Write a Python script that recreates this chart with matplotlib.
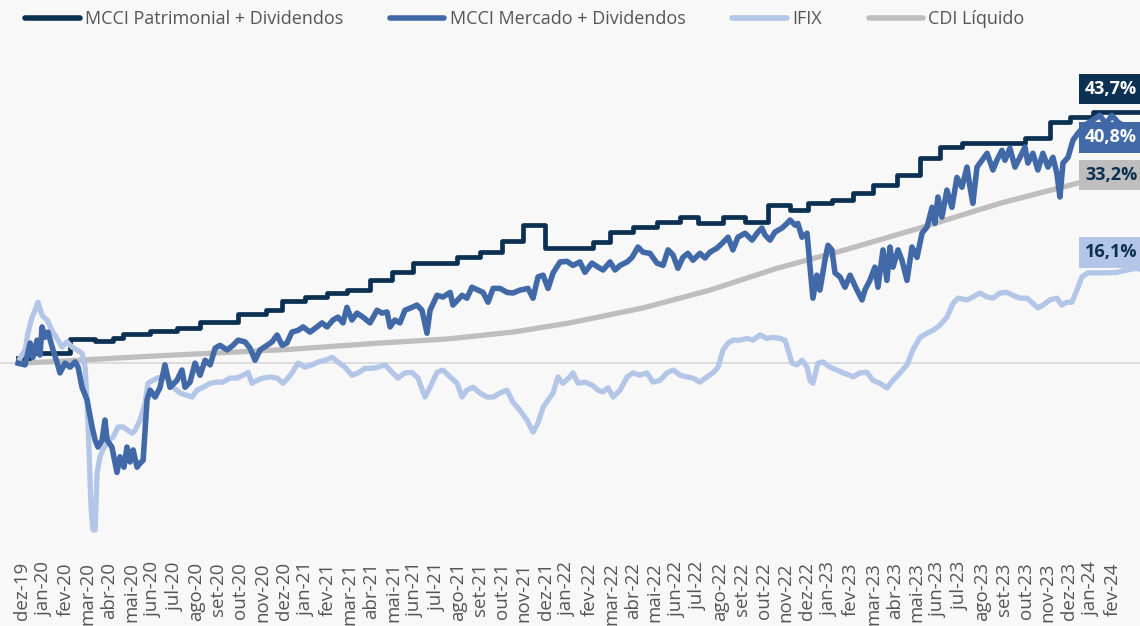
import matplotlib

matplotlib.use("Agg")

import matplotlib.pyplot as plt
from matplotlib.lines import Line2D

plt.rcParams["font.family"] = ["Open Sans", "DejaVu Sans"]

# x in months, 0 = dez-19 tick; values in %
month_labels = [
    "dez-19", "jan-20", "fev-20", "mar-20", "abr-20", "mai-20", "jun-20", "jul-20",
    "ago-20", "set-20", "out-20", "nov-20", "dez-20", "jan-21", "fev-21", "mar-21",
    "abr-21", "mai-21", "jun-21", "jul-21", "ago-21", "set-21", "out-21", "nov-21",
    "dez-21", "jan-22", "fev-22", "mar-22", "abr-22", "mai-22", "jun-22", "jul-22",
    "ago-22", "set-22", "out-22", "nov-22", "dez-22", "jan-23", "fev-23", "mar-23",
    "abr-23", "mai-23", "jun-23", "jul-23", "ago-23", "set-23", "out-23", "nov-23",
    "dez-23", "jan-24", "fev-24",
]

patrimonial_x = [
    -0.18, 0.37, 2.20, 3.35, 4.17, 4.63, 5.87, 7.10, 8.16, 9.90, 11.18, 11.92,
    12.97, 13.98, 14.90, 15.95, 16.96, 17.92, 19.94, 20.99, 22.00, 22.96, 23.97,
    26.17, 26.95, 28.00, 29.10, 30.16, 30.98, 32.13, 33.14, 34.19, 35.20, 36.02,
    37.12, 38.08, 39.00, 40.10, 41.16, 42.07, 43.08, 45.97, 47.11, 48.03, 49.08, 51.4,
]
patrimonial_y = [
    0.9, 1.7, 4.2, 3.8, 4.3, 5.0, 5.6, 6.1, 7.1, 8.5, 9.2, 10.8,
    11.5, 12.2, 12.7, 14.4, 15.8, 17.4, 18.4, 19.3, 21.2, 24.0, 20.0,
    21.0, 22.8, 23.7, 24.5, 25.4, 24.3, 25.4, 24.5, 27.5, 26.6, 27.8,
    28.3, 29.6, 31.0, 32.7, 35.7, 37.6, 38.3, 39.1, 41.9, 42.8, 43.7, 43.7,
]

mercado_x = [
    -0.18, 0.14, 0.37, 0.50, 0.69, 0.82, 0.92, 1.05, 1.19, 1.42, 1.60, 1.74, 1.97,
    2.20, 2.43, 2.57, 2.75, 2.98, 3.21, 3.35, 3.48, 3.67, 3.80, 3.90, 4.12, 4.35,
    4.49, 4.67, 4.81, 4.95, 5.09, 5.27, 5.41, 5.55, 5.73, 5.87, 6.10, 6.32, 6.55,
    6.78, 7.10, 7.33, 7.47, 7.70, 7.93, 8.16, 8.39, 8.62, 8.85, 9.07, 9.40, 9.67,
    9.90, 10.22, 10.45, 10.68, 10.91, 11.23, 11.46, 11.69, 11.92, 12.14, 12.37,
    12.65, 12.88, 13.20, 13.52, 13.75, 13.98, 14.25, 14.48, 14.71, 14.89, 15.12,
    15.35, 15.63, 15.95, 16.27, 16.50, 16.73, 16.87, 17.09, 17.32, 17.55, 17.87,
    18.10, 18.33, 18.56, 18.70, 19.02, 19.29, 19.62, 19.75, 20.17, 20.39, 20.62,
    20.90, 21.13, 21.36, 21.59, 21.91, 22.23, 22.50, 22.82, 23.19, 23.42, 23.65,
    23.88, 24.11, 24.34, 24.66, 24.98, 25.25, 25.57, 25.80, 26.12, 26.40, 26.63,
    26.95, 27.18, 27.41, 27.73, 27.96, 28.23, 28.46, 28.78, 29.10, 29.38, 29.61,
    29.84, 30.06, 30.29, 30.52, 30.75, 31.07, 31.30, 31.53, 31.85, 32.13, 32.36,
    32.58, 32.81, 33.14, 33.46, 33.73, 33.91, 34.05, 34.28, 34.51, 34.83, 35.06,
    35.20, 35.43, 35.56, 35.75, 35.98, 36.11, 36.25, 36.43, 36.57, 36.80, 36.94,
    37.12, 37.26, 37.49, 37.72, 37.95, 38.27, 38.50, 38.63, 38.86, 39.09, 39.23,
    39.46, 39.64, 39.78, 39.92, 40.15, 40.33, 40.56, 40.79, 41.02, 41.25, 41.48,
    41.71, 41.84, 41.98, 42.16, 42.39, 42.62, 42.85, 43.08, 43.31, 43.45, 43.58,
    43.77, 44.00, 44.23, 44.50, 44.68, 44.91, 45.05, 45.28, 45.51, 45.74, 45.97,
    46.10, 46.33, 46.56, 46.79, 47.02, 47.25, 47.43, 47.57, 47.71, 47.94, 48.17,
    48.40, 48.72, 49.08, 49.40, 49.68, 49.95, 50.23, 50.55, 51.01, 51.4,
]
mercado_y = [
    0.0, -0.3, 3.5, 1.0, 4.0, 1.4, 6.3, 4.5, 5.4, 2.3, 0.2, -1.7, 0.0,
    -0.7, 0.2, -0.7, -4.2, -6.4, -11.1, -13.4, -14.6, -13.4, -9.9, -13.4, -14.6, -19.0,
    -16.3, -18.1, -14.6, -17.2, -15.1, -18.1, -17.4, -16.9, -6.4, -4.7, -5.9, -4.3, -0.3,
    -4.2, -3.0, -1.2, -4.2, -3.3, 0.0, -2.1, 0.5, -0.3, 2.6, 3.1, 2.3, 3.1,
    4.0, 3.7, 2.6, 0.5, 2.3, 3.1, 3.7, 4.9, 3.1, 3.5, 5.4,
    5.7, 6.3, 5.4, 6.3, 7.0, 6.3, 7.5, 8.0, 7.0, 9.7, 7.5,
    8.7, 8.0, 7.0, 9.2, 8.7, 8.9, 6.3, 7.5, 7.0, 9.2, 9.7,
    10.1, 9.2, 5.2, 9.2, 11.8, 11.5, 12.3, 10.1, 11.8, 11.3, 13.2,
    12.7, 12.3, 10.6, 13.0, 13.0, 12.3, 12.2, 12.7, 13.0, 11.3, 15.0,
    15.3, 13.0, 15.7, 17.6, 17.7, 17.0, 17.6, 15.8, 17.4, 16.7, 16.2,
    17.6, 16.2, 17.0, 17.6, 18.4, 20.2, 19.3, 19.1, 17.4, 17.0, 19.7,
    18.8, 16.5, 18.4, 19.1, 17.9, 19.1, 18.3, 19.3, 20.0, 21.0, 21.9,
    19.7, 21.9, 22.6, 21.4, 22.8, 23.5, 22.3, 21.4, 22.8, 23.5, 24.3,
    24.9, 24.0, 24.3, 21.9, 22.6, 17.0, 11.3, 15.3, 12.7, 17.9, 20.5,
    19.7, 15.7, 15.0, 13.2, 15.3, 12.7, 11.0, 12.7, 14.4, 16.7, 13.2,
    19.7, 14.4, 20.2, 16.7, 19.7, 17.9, 14.4, 20.2, 18.4, 22.6, 23.7,
    27.1, 24.3, 28.9, 25.4, 30.1, 27.1, 32.3, 30.6, 34.1, 30.6, 27.8,
    34.1, 35.3, 36.5, 33.6, 35.3, 37.0, 35.3, 37.4, 34.1, 35.8, 37.6,
    34.8, 36.5, 33.6, 36.5, 34.1, 35.8, 33.0, 28.9, 34.8, 35.8, 38.8,
    40.0, 41.4, 42.3, 43.1, 41.6, 43.1, 41.9, 41.2, 40.8, 40.8,
]

ifix_x = [
    -0.18, -0.09, 0.14, 0.27, 0.46, 0.60, 0.73, 0.92, 1.15, 1.37, 1.60, 1.83, 2.06,
    2.29, 2.52, 2.75, 2.89, 2.98, 3.07, 3.16, 3.25, 3.35, 3.44, 3.57, 3.71, 3.94,
    4.17, 4.40, 4.63, 4.86, 5.04, 5.18, 5.41, 5.64, 5.77, 6.00, 6.19, 6.46, 6.69,
    6.92, 7.24, 7.56, 7.79, 8.02, 8.30, 8.62, 8.94, 9.21, 9.53, 9.85, 10.13, 10.36,
    10.54, 10.77, 11.04, 11.37, 11.69, 11.96, 12.19, 12.37, 12.65, 12.97, 13.29,
    13.57, 13.89, 14.21, 14.48, 14.80, 15.12, 15.40, 15.72, 16.04, 16.32, 16.64,
    16.96, 17.23, 17.55, 17.87, 18.15, 18.47, 18.70, 19.02, 19.29, 19.62, 19.94,
    20.17, 20.39, 20.67, 20.99, 21.31, 21.59, 21.91, 22.23, 22.50, 22.82, 23.14,
    23.42, 23.65, 23.88, 24.11, 24.34, 24.56, 24.79, 25.11, 25.25, 25.48, 25.80,
    26.12, 26.40, 26.63, 26.86, 27.09, 27.41, 27.73, 28.00, 28.32, 28.64, 28.92,
    29.24, 29.56, 29.84, 30.16, 30.48, 30.75, 31.07, 31.39, 31.67, 31.90, 32.13,
    32.36, 32.58, 32.91, 33.23, 33.50, 33.82, 34.14, 34.42, 34.74, 34.97, 35.11,
    35.29, 35.52, 35.75, 35.98, 36.11, 36.25, 36.48, 36.71, 37.03, 37.35, 37.63,
    37.95, 38.08, 38.40, 38.73, 39.00, 39.32, 39.64, 39.92, 40.24, 40.56, 40.83,
    41.16, 41.48, 41.75, 42.07, 42.39, 42.67, 42.90, 43.31, 43.58, 43.90, 44.23,
    44.50, 44.82, 45.14, 45.42, 45.74, 46.06, 46.33, 46.56, 46.79, 47.11, 47.43,
    47.66, 47.89, 48.12, 48.35, 48.58, 48.85, 49.27, 49.73, 50.18, 50.64, 51.10, 51.4,
]
ifix_y = [
    0.0, 0.9, 2.3, 5.2, 8.0, 9.2, 10.6, 8.3, 7.5, 5.7, 4.3, 2.8, 3.7,
    2.8, 2.3, 1.7, -0.7, -6.4, -15.1, -25.0, -29.0, -29.0, -19.1, -16.3, -15.1, -13.4,
    -12.9, -11.1, -11.1, -11.7, -12.2, -11.7, -9.9, -7.0, -3.5, -3.0, -2.6, -2.4, -2.6,
    -4.2, -5.2, -5.6, -5.9, -4.7, -4.2, -3.5, -3.3, -3.3, -2.6, -2.6, -2.1, -1.6,
    -3.5, -3.0, -2.6, -2.4, -2.6, -3.5, -2.6, -1.7, 0.0, -0.7, -0.3,
    0.2, 0.5, 1.0, 0.2, -0.7, -2.1, -1.7, -0.9, -0.9, -0.7, -0.3,
    -1.6, -2.6, -1.7, -1.6, -2.6, -5.9, -4.2, -1.6, -1.2, -2.4, -3.5,
    -5.9, -4.7, -4.2, -5.2, -5.9, -5.9, -5.2, -4.7, -6.8, -8.2, -9.9,
    -12.0, -10.4, -7.7, -6.4, -5.2, -2.4, -3.5, -2.4, -1.7, -3.5, -3.3,
    -3.8, -4.7, -5.0, -4.3, -5.9, -4.7, -2.4, -1.7, -2.1, -1.7, -3.3,
    -3.0, -1.7, -1.2, -2.1, -2.4, -2.6, -3.3, -2.4, -1.7, -0.7, 2.3,
    3.5, 4.0, 4.0, 4.3, 4.0, 4.9, 4.3, 4.5, 4.3, 4.0, 2.3,
    0.0, -0.3, 0.5, -0.7, -3.0, -3.5, 0.0, 0.2, -0.7, -1.2, -1.7,
    -2.1, -2.4, -1.7, -1.6, -3.0, -3.5, -4.3, -3.0, -1.7, -0.3, 2.3,
    4.5, 5.2, 5.7, 6.6, 8.0, 10.4, 11.3, 11.0, 11.5, 12.2, 11.5,
    11.3, 12.2, 12.3, 11.8, 11.3, 11.3, 10.4, 9.6, 10.1, 11.0, 11.3,
    10.1, 10.6, 10.6, 12.7, 15.0, 15.7, 15.7, 15.7, 15.8, 16.2, 16.5, 16.1,
]

cdi_x = [-0.18, 1.66, 3.49, 5.87, 12.28, 16.41, 19.48, 22.50, 25.11, 28.46,
         31.53, 34.60, 37.72, 41.15, 44.82, 48.58, 50.55]
cdi_y = [0.0, 0.3, 0.7, 1.2, 2.4, 3.5, 4.2, 5.4, 7.0, 9.6,
         12.7, 16.5, 19.7, 23.5, 27.8, 31.5, 33.2]

series_names = ["MCCI Patrimonial + Dividendos", "MCCI Mercado + Dividendos", "IFIX", "CDI Líquido"]
end_labels = ["43,7%", "40,8%", "33,2%", "16,1%"]

NAVY = "#0b3052"
BLUE = "#4169a8"
LIGHT = "#b3c6e7"
GRAY = "#bebebe"
TEXT = "#555555"

fig = plt.figure(figsize=(11.4, 6.26), dpi=100, facecolor="#f8f8f8")
ax = fig.add_axes([0, 0.1086, 1, 0.8274])
ax.set_facecolor("none")

ax.axhline(0, color="#dadada", lw=1.3, zorder=1)
ax.plot(cdi_x, cdi_y, color=GRAY, lw=3.8, solid_capstyle="round", zorder=2)
ax.plot(patrimonial_x, patrimonial_y, color=NAVY, lw=3.4, drawstyle="steps-post", zorder=3)
ax.plot(ifix_x, ifix_y, color=LIGHT, lw=3.8, solid_joinstyle="round", zorder=4)
ax.plot(mercado_x, mercado_y, color=BLUE, lw=4.0, solid_joinstyle="round", zorder=5)

ax.set_xlim(-1.01, 51.24)
ax.set_ylim(-33.9, 56.2)
ax.set_xticks(range(len(month_labels)))
ax.set_xticklabels(month_labels, rotation=90, fontsize=13.5, color=TEXT)
ax.tick_params(axis="x", length=0, pad=3)
ax.set_yticks([])
for spine in ax.spines.values():
    spine.set_visible(False)

# end-value tags
tag_style = [
    (patrimonial_y[-1], 4.0, NAVY, "white"),
    (mercado_y[-1], -1.5, BLUE, "white"),
    (cdi_y[-1], -0.5, GRAY, NAVY),
    (ifix_y[-1], 3.2, LIGHT, NAVY),
]
for text, (value, offset, face, color) in zip(end_labels, tag_style):
    ax.text(48.72, value + offset, text, ha="left", va="center", fontsize=13,
            fontweight="bold", color=color, zorder=6,
            bbox=dict(boxstyle="square,pad=0.35", fc=face, ec="none"))

handles = [Line2D([], [], color=c, lw=4, solid_capstyle="round") for c in (NAVY, BLUE, LIGHT, GRAY)]
fig.legend(handles, series_names, loc="upper left", bbox_to_anchor=(0.008, 1.01), ncol=4,
           frameon=False, fontsize=13, handlelength=3.0, handletextpad=0.3,
           columnspacing=2.6, labelcolor=TEXT)

fig.savefig("out.png", dpi=100, facecolor=fig.get_facecolor())
